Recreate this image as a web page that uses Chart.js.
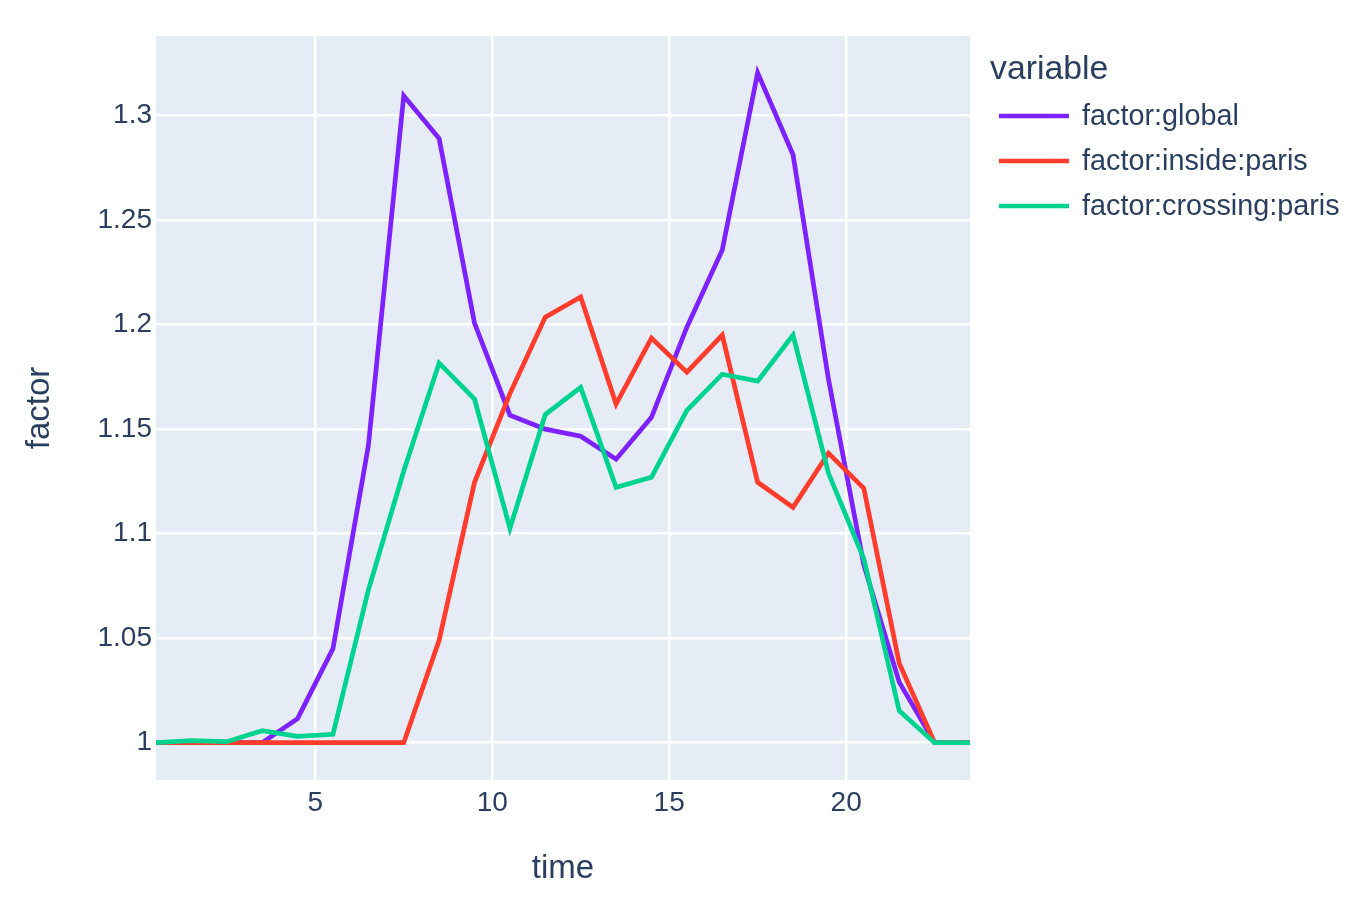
<!DOCTYPE html>
<html>
<head>
<meta charset="utf-8">
<script src="https://cdn.jsdelivr.net/npm/chart.js@4"></script>
<style>
  html, body { margin: 0; padding: 0; background: #fff; }
  #wrap { width: 1367px; height: 905px; position: relative; }
</style>
</head>
<body>
<div id="wrap"><canvas id="chart" width="1367" height="905"></canvas></div>
<script>
  const times = [0.5, 1.5, 2.5, 3.5, 4.5, 5.5, 6.5, 7.5, 8.5, 9.5, 10.5, 11.5,
                 12.5, 13.5, 14.5, 15.5, 16.5, 17.5, 18.5, 19.5, 20.5, 21.5, 22.5, 23.5];
  const factorGlobal = [1, 1, 1, 1, 1.0115, 1.045, 1.142, 1.3095, 1.289, 1.2008, 1.1567, 1.150,
                        1.1466, 1.1356, 1.1557, 1.1988, 1.2357, 1.3205, 1.2813, 1.174, 1.085, 1.029, 1, 1];
  const factorInside = [1, 1, 1, 1, 1, 1, 1, 1, 1.049, 1.1246, 1.167, 1.2036,
                        1.2132, 1.162, 1.1936, 1.1773, 1.195, 1.1246, 1.1126, 1.1385, 1.1217, 1.038, 1, 1];
  const factorCrossing = [1, 1.001, 1.0005, 1.0057, 1.003, 1.004, 1.073, 1.130, 1.1816, 1.1644, 1.1025, 1.157,
                          1.170, 1.1222, 1.127, 1.159, 1.1763, 1.173, 1.195, 1.129, 1.088, 1.0153, 1, 1];
  const seriesNames = ['factor:global', 'factor:inside:paris', 'factor:crossing:paris'];
  const seriesColors = ['#7d22ff', '#ff3b2c', '#00d290'];
  const xTicks = [5, 10, 15, 20];
  const yTicks = [1, 1.05, 1.1, 1.15, 1.2, 1.25, 1.3];

  const FONT = '"Liberation Sans", Arial, sans-serif';
  const TEXT = '#2a3f5f';

  function pts(vals) { return vals.map((v, i) => ({ x: times[i], y: v })); }

  // plot background like plotly
  const bgPlugin = {
    id: 'plotBg',
    beforeDraw(chart) {
      const a = chart.chartArea, ctx = chart.ctx;
      ctx.save();
      ctx.fillStyle = '#e5ecf6';
      ctx.fillRect(a.left, a.top, a.right - a.left, a.bottom - a.top);
      ctx.restore();
    }
  };

  // legend drawn at right, plotly style
  const legendPlugin = {
    id: 'sideLegend',
    afterDraw(chart) {
      const ctx = chart.ctx;
      ctx.save();
      ctx.fillStyle = TEXT;
      ctx.textBaseline = 'middle';
      ctx.textAlign = 'left';
      ctx.font = '33.8px ' + FONT;
      ctx.fillText('variable', 990, 70);
      ctx.font = '28.8px ' + FONT;
      seriesNames.forEach((name, i) => {
        const y = 116 + i * 45;
        ctx.strokeStyle = seriesColors[i];
        ctx.lineWidth = 4.7;
        ctx.beginPath(); ctx.moveTo(999, y); ctx.lineTo(1069, y); ctx.stroke();
        ctx.fillStyle = TEXT;
        ctx.fillText(name, 1082, y + 1);
      });
      ctx.restore();
    }
  };

  const mkSet = (i, vals, order) => ({
    label: seriesNames[i], data: pts(vals), borderColor: seriesColors[i], backgroundColor: seriesColors[i],
    borderWidth: 4.7, pointRadius: 0, tension: 0, fill: false, order: order
  });

  new Chart(document.getElementById('chart'), {
    type: 'line',
    data: { datasets: [mkSet(0, factorGlobal, 3), mkSet(1, factorInside, 2), mkSet(2, factorCrossing, 1)] },
    options: {
      responsive: false,
      animation: false,
      devicePixelRatio: 1,
      layout: { padding: { left: 0, right: 397, top: 36, bottom: 0 } },
      plugins: { legend: { display: false }, tooltip: { enabled: false } },
      scales: {
        x: {
          type: 'linear', min: 0.5, max: 23.5,
          afterBuildTicks: s => { s.ticks = xTicks.map(v => ({ value: v })); },
          afterFit: s => { s.height = 125; },
          grid: { color: '#ffffff', lineWidth: 2.5, drawTicks: false },
          border: { display: false },
          ticks: { color: TEXT, font: { family: FONT, size: 28 }, padding: 6, maxRotation: 0 },
          title: { display: true, text: 'time', color: TEXT, font: { family: FONT, size: 33 }, padding: { top: 0, bottom: 16 } }
        },
        y: {
          type: 'linear', min: 0.98215, max: 1.3381,
          afterBuildTicks: s => { s.ticks = yTicks.map(v => ({ value: v })); },
          afterFit: s => { s.width = 156; },
          grid: { color: '#ffffff', lineWidth: 2.5, drawTicks: false },
          border: { display: false },
          ticks: { color: TEXT, font: { family: FONT, size: 28 }, padding: 4, callback: v => String(v) },
          title: { display: true, text: 'factor', color: TEXT, font: { family: FONT, size: 33 }, padding: { top: 20, bottom: 0 } }
        }
      }
    },
    plugins: [bgPlugin, legendPlugin]
  });
</script>
</body>
</html>
